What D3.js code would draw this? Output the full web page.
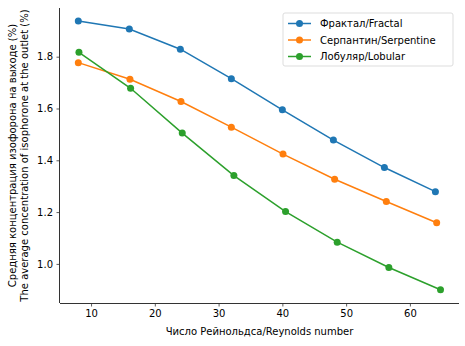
<!DOCTYPE html>
<html>
<head>
<meta charset="utf-8">
<script src="https://cdn.jsdelivr.net/npm/d3@7"></script>
<style>
  body { margin: 0; background: #fff; }
  text { font-family: "DejaVu Sans", sans-serif; }
</style>
</head>
<body>
<div id="chart"></div>
<script>
// data
const seriesNames = ['Фрактал/Fractal', 'Серпантин/Serpentine', 'Лобуляр/Lobular'];
const colors = ['#1f77b4', '#ff7f0e', '#2ca02c'];

const reFractal = [8, 16, 24, 32, 40, 48, 56, 64];
const reSerpentine = [8, 16.1, 24.1, 32, 40.1, 48.2, 56.3, 64.2];
const reLobular = [8.1, 16.2, 24.3, 32.4, 40.5, 48.6, 56.7, 64.8];

const concFractal = [1.938, 1.907, 1.829, 1.715, 1.595, 1.478, 1.372, 1.279];
const concSerpentine = [1.777, 1.713, 1.627, 1.528, 1.424, 1.327, 1.241, 1.159];
const concLobular = [1.817, 1.678, 1.505, 1.341, 1.202, 1.084, 0.986, 0.900];

const xTicks = [10, 20, 30, 40, 50, 60];
const yTicks = [1.0, 1.2, 1.4, 1.6, 1.8];

const allSeries = [
    { name: seriesNames[0], xs: reFractal, ys: concFractal },
    { name: seriesNames[1], xs: reSerpentine, ys: concSerpentine },
    { name: seriesNames[2], xs: reLobular, ys: concLobular }
];

var width = 465, height = 346;
var margin = { left: 60, right: 6, top: 8, bottom: 43 };

var svg = d3.select('#chart').append('svg')
    .attr('width', width)
    .attr('height', height);

var x = d3.scaleLinear()
    .domain([5.13, 67.7])
    .range([margin.left, width - margin.right]);

var y = d3.scaleLinear()
    .domain([0.849, 1.988])
    .range([height - margin.bottom, margin.top]);

// axes, only left + bottom spines
var xAxis = svg.append('g')
    .attr('transform', 'translate(0,' + (height - margin.bottom) + ')')
    .call(d3.axisBottom(x).tickValues(xTicks).tickSize(3.5).tickPadding(3.5).tickFormat(d3.format('d')));

var yAxis = svg.append('g')
    .attr('transform', 'translate(' + margin.left + ',0)')
    .call(d3.axisLeft(y).tickValues(yTicks).tickSize(3.5).tickPadding(3.5).tickFormat(d3.format('.1f')));

[xAxis, yAxis].forEach(function (g) {
    g.select('.domain').attr('stroke', '#333').attr('stroke-width', 1);
    g.selectAll('.tick line').attr('stroke', '#333').attr('stroke-width', 0.8);
    g.selectAll('.tick text').attr('fill', '#000').style('font-size', '10px').style('font-family', 'DejaVu Sans');
});
// matplotlib style spine: no end caps
xAxis.select('.domain').attr('d', 'M' + margin.left + ',0.5H' + (width - margin.right));
yAxis.select('.domain').attr('d', 'M-0.5,' + (height - margin.bottom) + 'V' + margin.top);

// lines and markers
var line = d3.line()
    .x(function (d) { return x(d[0]); })
    .y(function (d) { return y(d[1]); });

allSeries.forEach(function (s, i) {
    var pts = d3.zip(s.xs, s.ys);
    svg.append('path')
        .datum(pts)
        .attr('fill', 'none')
        .attr('stroke', colors[i])
        .attr('stroke-width', 1.5)
        .attr('d', line);
    svg.selectAll('.dot' + i)
        .data(pts)
        .enter().append('circle')
        .attr('class', 'dot' + i)
        .attr('cx', function (d) { return x(d[0]); })
        .attr('cy', function (d) { return y(d[1]); })
        .attr('r', 3.5)
        .attr('fill', colors[i]);
});

// axis labels
svg.append('text')
    .attr('x', (margin.left + width - margin.right) / 2)
    .attr('y', 335)
    .attr('text-anchor', 'middle')
    .style('font-size', '10px')
    .text('Число Рейнольдса/Reynolds number');

var yMid = (margin.top + height - margin.bottom) / 2;
var yLab = svg.append('text')
    .attr('transform', 'translate(16,' + yMid + ') rotate(-90)')
    .attr('text-anchor', 'middle')
    .style('font-size', '10px');
yLab.append('tspan').attr('x', 0).attr('dy', 0).text('Средняя концентрация изофорона на выходе (%)');
yLab.append('tspan').attr('x', 0).attr('dy', 12).text('The average concentration of isophorone at the outlet (%)');

// legend
var legend = svg.append('g').attr('transform', 'translate(283,13)');
legend.append('rect')
    .attr('width', 170)
    .attr('height', 53)
    .attr('rx', 2)
    .attr('fill', '#fff')
    .attr('stroke', '#ddd')
    .attr('stroke-width', 1);

var entry = legend.selectAll('.entry')
    .data(seriesNames)
    .enter().append('g')
    .attr('transform', function (d, i) { return 'translate(0,' + (10.5 + i * 16.5) + ')'; });

entry.append('line')
    .attr('x1', 5).attr('x2', 28)
    .attr('stroke', function (d, i) { return colors[i]; })
    .attr('stroke-width', 1.5);
entry.append('circle')
    .attr('cx', 16.5)
    .attr('r', 3.5)
    .attr('fill', function (d, i) { return colors[i]; });
entry.append('text')
    .attr('x', 37)
    .attr('dy', '0.35em')
    .style('font-size', '10px')
    .text(function (d) { return d; });
</script>
</body>
</html>
